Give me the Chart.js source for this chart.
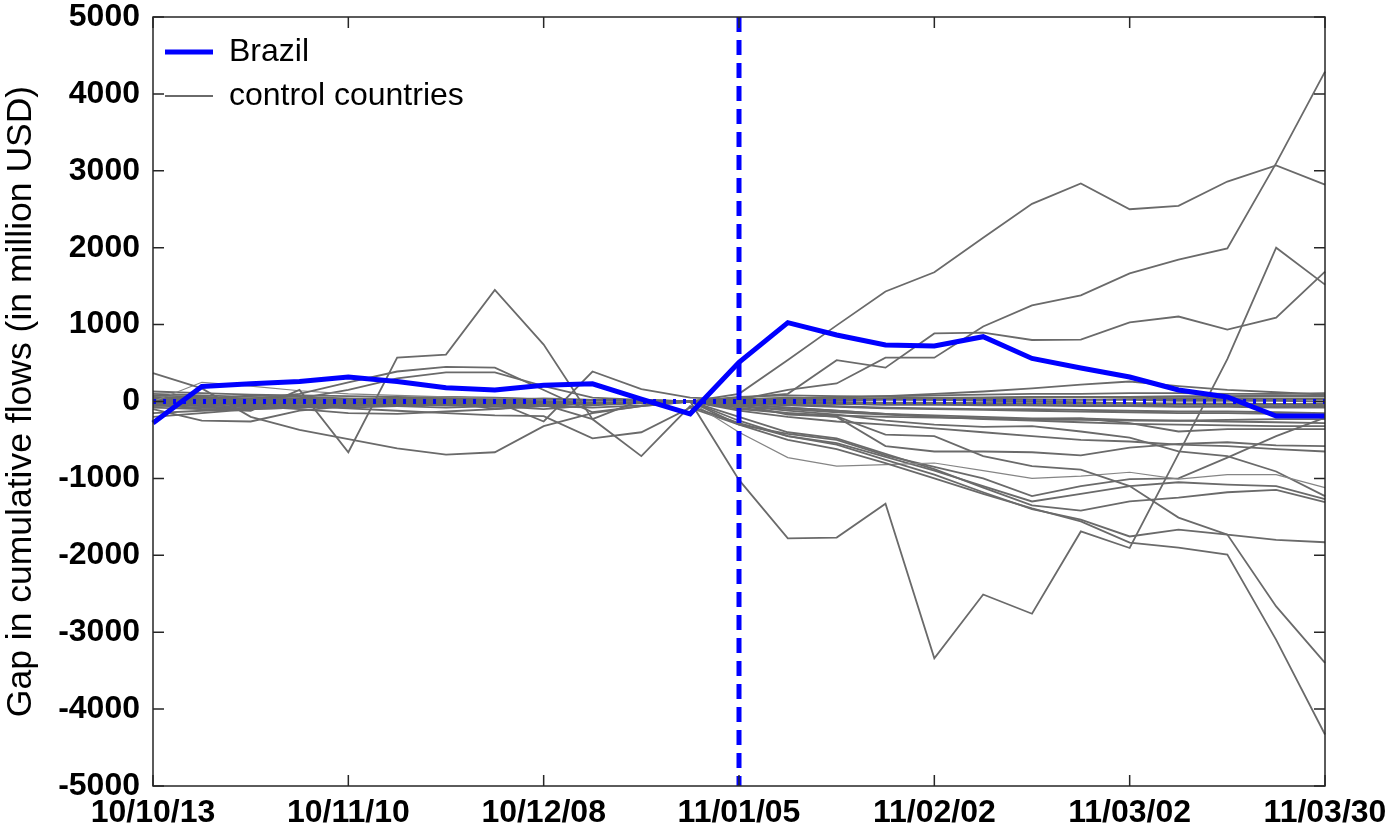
<!DOCTYPE html>
<html>
<head>
<meta charset="utf-8">
<script src="https://cdn.jsdelivr.net/npm/chart.js@4.4.0/dist/chart.umd.min.js"></script>
<style>
  html, body { margin: 0; padding: 0; background: #ffffff; }
  canvas { display: block; }
</style>
</head>
<body>
<canvas id="gapChart" width="1397" height="832"></canvas>
<script>
// Weekly observation dates (yy/mm/dd)
const weeks = [
  '10/10/13', '10/10/20', '10/10/27', '10/11/03', '10/11/10', '10/11/17', '10/11/24',
  '10/12/01', '10/12/08', '10/12/15', '10/12/22', '10/12/29', '11/01/05', '11/01/12',
  '11/01/19', '11/01/26', '11/02/02', '11/02/09', '11/02/16', '11/02/23', '11/03/02',
  '11/03/09', '11/03/16', '11/03/23', '11/03/30'
];
const treatmentWeek = '11/01/05';
const yMin = -5000;
const yMax = 5000;
const yStep = 1000;

// Gap in cumulative flows, million USD
const brazil = [-280, 195, 230, 260, 320, 260, 180, 150, 210, 230, 30, -160, 510,
  1025, 865, 735, 722, 843, 560, 435, 318, 150, 58, -190, -190];

// Control countries
const ctrl01 = [80, 60, 40, 30, 20, 10, 0, -20, -30, -20, -10, 0,
  100, 540, 990, 1430, 1680, 2130, 2570, 2835, 2500, 2545, 2860, 3070, 2820];
const ctrl02 = [-50, -80, -60, -30, 0, 20, 10, 0, -260, 390, 160, 50,
  25, 150, 235, 570, 570, 975, 1250, 1380, 1665, 1845, 1990, 3100, 4290];
const ctrl03 = [0, -20, 30, 100, 250, 390, 450, 440, 150, -140, -60, 0,
  50, 100, 537, 440, 885, 895, 800, 805, 1030, 1105, 935, 1090, 1690];
const ctrl04 = [-30, -100, -120, 150, -660, 570, 610, 1450, 740, -230, 20, 0,
  -1020, -1780, -1770, -1330, -3340, -2510, -2760, -1690, -1905, -680, 550, 2000, 1520];
const ctrl05 = [370, 170, -200, -370, -490, -610, -690, -660, -320, -150, -60, 0,
  -300, -500, -620, -800, -1000, -1200, -1390, -1560, -1835, -1900, -1990, -3100, -4330];
const ctrl06 = [0, -40, -80, -60, -30, -20, 0, -100, -40, -230, -710, -60,
  -280, -450, -560, -760, -950, -1180, -1400, -1535, -1755, -1665, -1730, -2665, -3400];
const ctrl07 = [-100, -250, -260, -120, -60, -20, 0, 20, 40, 20, 10, 0,
  -40, -170, -195, -430, -450, -710, -840, -885, -1100, -1510, -1730, -1800, -1830];
const ctrl08 = [0, 250, 200, 140, 100, 80, 60, 40, 20, 0, 0, 0,
  -400, -730, -840, -820, -800, -900, -1000, -970, -920, -1010, -950, -950, -1120];
const ctrl09 = [20, 0, -30, -60, -90, -120, -150, -180, -190, -480, -400, -80,
  -300, -420, -500, -700, -850, -1000, -1230, -1100, -1010, -1000, -730, -450, -210];
const ctrl10 = [40, 20, 0, -20, -30, -40, -50, -40, -30, -20, -10, 0,
  -250, -450, -540, -720, -900, -1100, -1300, -1200, -1100, -1050, -1080, -1100, -1270];
const ctrl11 = [-200, -150, -100, -80, -60, -50, -40, -60, -100, -50, -20, 0,
  -200, -400, -480, -680, -880, -1120, -1350, -1420, -1300, -1250, -1180, -1150, -1310];
const ctrl12 = [50, 20, -10, -30, -30, -20, -10, 0, 10, 20, 10, 0,
  -60, -120, -170, -250, -300, -330, -320, -390, -470, -650, -710, -910, -1230];
const ctrl13 = [-30, 30, 80, 60, 40, 30, 30, 10, 0, -20, -10, 0,
  -80, -150, -180, -200, -210, -220, -230, -220, -280, -390, -360, -360, -360];
const ctrl14 = [0, -20, -60, -100, -150, -160, -130, -100, -60, -80, -50, 0,
  -100, -150, -200, -580, -650, -650, -660, -700, -600, -550, -530, -570, -580];
const ctrl15 = [-30, -60, -20, 40, 150, 300, 380, 380, 200, 50, 20, 0,
  -120, -200, -260, -300, -350, -400, -450, -500, -520, -560, -580, -620, -650];
const ctrl16 = [-60, -40, -20, 0, 20, 40, 60, 50, 30, 10, 0, 0,
  -60, -100, -140, -170, -200, -220, -240, -240, -250, -250, -240, -230, -230];
const ctrl17 = [30, 60, 20, -20, -40, -60, -40, -20, 0, -20, -10, 0,
  -30, -80, -120, -160, -200, -230, -250, -270, -290, -300, -310, -320, -320];
const ctrl18 = [-20, 0, 20, 10, 0, -10, -20, -10, 0, 10, 0, 0,
  0, 20, 50, 70, 100, 130, 170, 220, 260, 200, 150, 120, 90];
const ctrl19 = [60, 40, 20, 0, 30, 50, 40, 30, 20, 10, 0, 0,
  20, 40, 60, 70, 80, 90, 100, 100, 110, 110, 100, 100, 110];
const ctrl20 = [-40, -20, -30, -10, -20, -30, -40, -30, -20, -10, 0, 0,
  -10, -20, -30, -40, -40, -50, -50, -60, -60, -70, -70, -80, -80];
const ctrl21 = [100, 80, 60, 40, 20, 0, -20, -10, 0, 10, 20, 0,
  0, 10, 20, 30, 40, 40, 50, 60, 60, 70, 70, 80, 80];
const ctrl22 = [-80, -100, -90, -60, -40, -20, -10, -10, -20, -30, -20, 0,
  -30, -50, -70, -90, -100, -110, -120, -130, -140, -150, -150, -160, -170];
const ctrl23 = [20, -10, -40, -60, -80, -60, -40, -20, 0, 20, 10, 0,
  0, -10, -10, -20, -20, -20, -30, -30, -30, -40, -40, -40, -50];
const ctrl24 = [-150, -120, -100, -50, -20, 0, 20, 40, 20, 0, -10, 0,
  10, 20, 20, 30, 30, 30, 20, 20, 20, 10, 10, 10, 0];
const ctrl25 = [130, 110, 90, 80, 70, 60, 50, 40, 30, 20, 10, 0,
  -20, -40, -60, -80, -90, -100, -100, -110, -120, -130, -130, -140, -150];
const ctrl26 = [0, 50, 30, 0, -30, -60, -80, -60, -40, -20, -10, 0,
  30, 50, 40, 30, 20, 10, 0, -10, -20, -30, -40, -40, -30];
const ctrl27 = [-20, -60, -100, -80, -50, -40, -50, -70, -60, -30, -10, 0,
  -40, -80, -120, -160, -180, -200, -220, -220, -240, -250, -260, -270, -280];
const ctrl28 = [50, 0, -50, -20, 10, 40, 60, 30, 0, -20, 0, 0,
  60, 80, 70, 60, 50, 50, 60, 60, 50, 40, 40, 30, 30];
const ctrl29 = [10, 0, -10, -5, 0, 5, 0, -5, -10, -5, 0, 0,
  -5, -10, -10, -15, -15, -20, -20, -20, -25, -25, -25, -30, -30];
const ctrl30 = [-10, 10, 20, 15, 10, 5, 10, 15, 10, 5, 0, 0,
  10, 15, 15, 20, 20, 25, 25, 25, 30, 30, 30, 35, 35];
const ctrl31 = [30, 20, 10, 20, 30, 20, 10, 0, -10, 0, 10, 0,
  -20, -30, -30, -40, -40, -40, -50, -50, -50, -60, -60, -60, -60];
const ctrl32 = [-30, -20, 0, 10, 0, -20, -30, -20, 0, -10, -20, 0,
  15, 25, 35, 40, 45, 50, 55, 55, 60, 60, 60, 65, 65];

const controls = [ctrl01, ctrl02, ctrl03, ctrl04, ctrl05, ctrl06, ctrl07, ctrl08, ctrl09, ctrl10,
  ctrl11, ctrl12, ctrl13, ctrl14, ctrl15, ctrl16, ctrl17, ctrl18, ctrl19, ctrl20,
  ctrl21, ctrl22, ctrl23, ctrl24, ctrl25, ctrl26, ctrl27, ctrl28, ctrl29, ctrl30,
  ctrl31, ctrl32];
const thinControls = [ctrl08];

const BLUE = '#0000ff';
const GREY = '#6a6a6a';
const FONT = '"Liberation Sans", Arial, Helvetica, sans-serif';

const datasets = [];
// Brazil on top of the controls
datasets.push({
  label: 'Brazil',
  data: brazil,
  borderColor: BLUE,
  backgroundColor: BLUE,
  borderWidth: 5,
  order: 1
});
controls.forEach((series, i) => {
  const thin = thinControls.includes(series);
  datasets.push({
    label: i === 0 ? 'control countries' : '',
    data: series,
    borderColor: thin ? '#858585' : GREY,
    backgroundColor: GREY,
    borderWidth: thin ? 1.2 : 1.8,
    order: 2
  });
});
// zero reference line
datasets.push({
  label: '',
  data: weeks.map(() => 0),
  borderColor: BLUE,
  borderWidth: 5,
  borderDash: [3, 7],
  borderCapStyle: 'butt',
  order: 0
});

// Box around the plot, inward tick marks, and the treatment-date marker
const framePlugin = {
  id: 'frame',
  afterDatasetsDraw(chart) {
    const { ctx, chartArea: a, scales: { x, y } } = chart;
    ctx.save();
    const tx = x.getPixelForValue(weeks.indexOf(treatmentWeek));
    ctx.strokeStyle = BLUE;
    ctx.lineWidth = 5;
    ctx.setLineDash([15, 8]);
    ctx.beginPath();
    ctx.moveTo(tx, a.top);
    ctx.lineTo(tx, a.bottom);
    ctx.stroke();
    ctx.setLineDash([]);

    ctx.strokeStyle = '#262626';
    ctx.lineWidth = 1.5;
    ctx.strokeRect(a.left, a.top, a.right - a.left, a.bottom - a.top);
    const len = 11;
    ctx.beginPath();
    y.ticks.forEach(t => {
      const py = y.getPixelForValue(t.value);
      ctx.moveTo(a.left, py); ctx.lineTo(a.left + len, py);
      ctx.moveTo(a.right, py); ctx.lineTo(a.right - len, py);
    });
    weeks.forEach((w, i) => {
      if (i % 4 !== 0) return;
      const px = x.getPixelForValue(i);
      ctx.moveTo(px, a.bottom); ctx.lineTo(px, a.bottom - len);
      ctx.moveTo(px, a.top); ctx.lineTo(px, a.top + len);
    });
    ctx.stroke();
    ctx.restore();
  }
};

const tickFont = { family: FONT, size: 32, weight: 'bold', lineHeight: 1.1 };

new Chart(document.getElementById('gapChart'), {
  type: 'line',
  data: { labels: weeks, datasets },
  options: {
    responsive: false,
    animation: false,
    devicePixelRatio: 1,
    layout: { padding: { top: 17, right: 72, bottom: 0, left: 0 } },
    elements: {
      point: { radius: 0, hoverRadius: 0 },
      line: { tension: 0, fill: false, borderJoinStyle: 'miter' }
    },
    plugins: {
      tooltip: { enabled: false },
      legend: {
        position: 'chartArea',
        align: 'start',
        title: { display: true, text: ' ', font: { size: 20, lineHeight: 1.2 }, padding: 0 },
        labels: {
          usePointStyle: true,
          pointStyle: 'line',
          pointStyleWidth: 48,
          padding: 12,
          color: '#000',
          font: { family: FONT, size: 32 },
          filter: item => item.text !== ''
        }
      }
    },
    scales: {
      x: {
        type: 'category',
        offset: false,
        grid: { display: false, drawTicks: false },
        border: { display: false },
        ticks: {
          autoSkip: false,
          maxRotation: 0,
          minRotation: 0,
          padding: 10,
          color: '#000',
          font: tickFont,
          callback: (v, i) => (i % 4 === 0 ? weeks[i] : '')
        },
        afterFit: s => { s.height = 46; s.paddingLeft = 0; s.paddingRight = 0; }
      },
      y: {
        min: yMin,
        max: yMax,
        grid: { display: false, drawTicks: false },
        border: { display: false },
        ticks: {
          stepSize: yStep,
          padding: 13,
          color: '#000',
          font: tickFont,
          callback: v => String(v)
        },
        title: {
          display: true,
          text: 'Gap in cumulative flows (in million USD)',
          color: '#000',
          font: { family: FONT, size: 35.5, lineHeight: 1.2 },
          padding: { top: 0, bottom: 0 }
        },
        afterFit: s => { s.width = 153; s.paddingTop = 0; s.paddingBottom = 0; }
      }
    }
  },
  plugins: [framePlugin]
});
</script>
</body>
</html>
